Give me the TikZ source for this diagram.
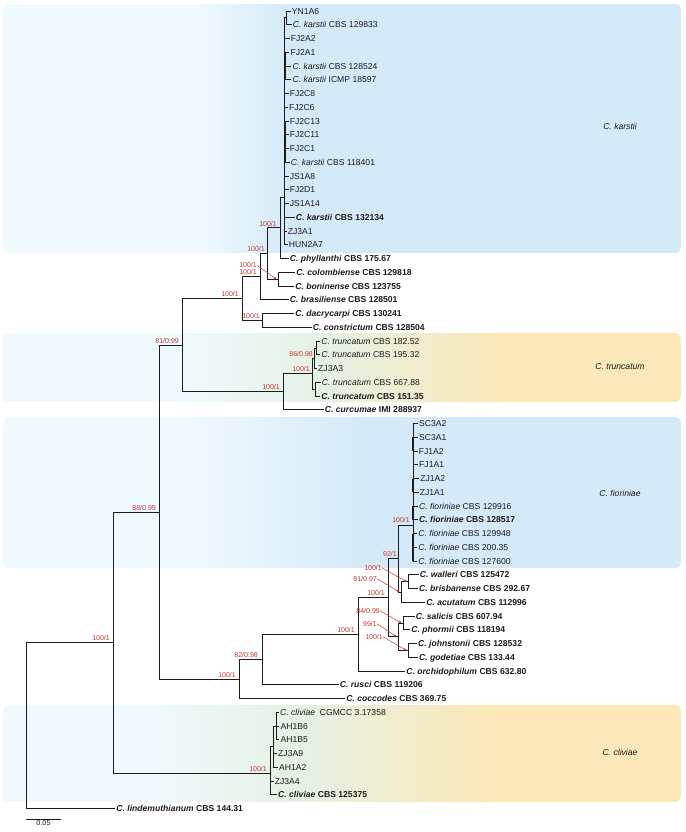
\documentclass[tikz,border=0pt]{standalone}
\usepackage{fontspec}
\setmainfont{Liberation Sans}
\usetikzlibrary{arrows.meta,calc}
\definecolor{bsred}{RGB}{200,52,46}
\definecolor{boxblue}{RGB}{213,234,248}
\definecolor{boxpale}{RGB}{239,250,254}
\definecolor{boxgreen}{RGB}{229,241,227}
\definecolor{boxorange}{RGB}{252,232,184}
\definecolor{ink}{RGB}{28,28,28}
\newcommand\spn[2]{\textit{#1} #2}
\newcommand\spbold[2]{\textbf{\textit{#1} #2}}
\tikzset{
  br/.style={draw=ink, line width=0.8pt},
  brk/.style={draw=ink, line width=1.7pt},
  tiplab/.style={anchor=west, inner xsep=1.2pt, inner ysep=0pt, text height=6.2pt, text depth=0pt, font=\fontsize{8.6}{10}\selectfont, text=ink},
  bs/.style={anchor=south east, inner sep=0pt, text height=5pt, text depth=0pt, font=\fontsize{7}{8}\selectfont, text=bsred},
  bsarrow/.style={draw=bsred, line width=0.5pt, -{Stealth[length=3pt,width=2.6pt]}},
  clab/.style={font=\fontsize{8.6}{10}\selectfont\itshape, text=ink},
}
\begin{document}
\begin{tikzpicture}[x=1pt,y=-1pt]
\useasboundingbox (0,0) rectangle (685,832);
% ---------- background boxes ----------
\begin{scope}
\clip[rounded corners=5pt] (3,4) rectangle (681,253);
\fill[boxpale] (3,4) rectangle (200,253);
\shade[left color=boxpale, right color=boxblue] (199.5,4) rectangle (285.5,253);
\fill[boxblue] (285,4) rectangle (681,253);
\end{scope}
\begin{scope}
\clip[rounded corners=5pt] (3,333) rectangle (681,402);
\fill[boxpale] (3,333) rectangle (180,402);
\shade[left color=boxpale, right color=boxgreen] (179.5,333) rectangle (330.5,402);
\shade[left color=boxgreen, right color=boxorange] (330,333) rectangle (500.5,402);
\fill[boxorange] (500,333) rectangle (681,402);
\end{scope}
\begin{scope}
\clip[rounded corners=5pt] (3,417) rectangle (681,568);
\fill[boxpale] (3,417) rectangle (190,568);
\shade[left color=boxpale, right color=boxblue] (189.5,417) rectangle (360.5,568);
\fill[boxblue] (360,417) rectangle (681,568);
\end{scope}
\begin{scope}
\clip[rounded corners=5pt] (3,705) rectangle (681,802);
\fill[boxpale] (3,705) rectangle (150,802);
\shade[left color=boxpale, right color=boxgreen] (149.5,705) rectangle (300.5,802);
\shade[left color=boxgreen, right color=boxorange] (300,705) rectangle (490.5,802);
\fill[boxorange] (490,705) rectangle (681,802);
\end{scope}
\node[clab] (lkar) at (620,126) {C. karstii};
\node[clab] (ltru) at (620,367) {C. truncatum};
\node[clab] (lfio) at (620,493) {C. fioriniae};
\node[clab] (lcli) at (620,752) {C. cliviae};
% ---------- internal nodes ----------
\coordinate (ka) at (286.5,17.9);
\coordinate (kb) at (285,66);
\coordinate (kd) at (284.8,141.6);
\coordinate (kc) at (284,197);
\coordinate (kp) at (280,227.75);
\coordinate (cb) at (278,279.1);
\coordinate (Nb) at (267,253.4);
\coordinate (Na) at (260,276.6);
\coordinate (dc) at (262,320.4);
\coordinate (Nc) at (242,298.5);
\coordinate (tA) at (316.5,347.9);
\coordinate (tB) at (314,358.2);
\coordinate (tC) at (315.5,389.1);
\coordinate (tcr) at (312,373.65);
\coordinate (T) at (283,391.7);
\coordinate (Nd) at (182,345.1);
\coordinate (fc) at (413,525);
\coordinate (wb) at (408,581.6);
\coordinate (Q) at (401,591.9);
\coordinate (P) at (398,558.45);
\coordinate (sp) at (403,622.9);
\coordinate (jg) at (408,650.4);
\coordinate (Bn) at (398,636.6);
\coordinate (X388) at (388,597.5);
\coordinate (X358) at (358,634.25);
\coordinate (X262) at (262,659.5);
\coordinate (X239) at (239,679);
\coordinate (Ne) at (159,512);
\coordinate (cA) at (276.5,726);
\coordinate (cB) at (273,746.4);
\coordinate (ccr) at (270,773);
\coordinate (I) at (113,642.5);
\coordinate (R) at (26,725.5);
% ---------- tips ----------
\node[tiplab] (t0) at (290.5,11) {YN1A6};
\node[tiplab] (t1) at (291.5,24.75) {\spn{C. karstii}{CBS 129833}};
\node[tiplab] (t2) at (289.5,38.5) {FJ2A2};
\node[tiplab] (t3) at (289.2,52.25) {FJ2A1};
\node[tiplab] (t4) at (291.2,66) {\spn{C. karstii}{CBS 128524}};
\node[tiplab] (t5) at (291.2,79.75) {\spn{C. karstii}{ICMP 18597}};
\node[tiplab] (t6) at (288.5,93.5) {FJ2C8};
\node[tiplab] (t7) at (287.8,107.25) {FJ2C6};
\node[tiplab] (t8) at (288.5,121) {FJ2C13};
\node[tiplab] (t9) at (288.5,134.75) {FJ2C11};
\node[tiplab] (t10) at (288.5,148.5) {FJ2C1};
\node[tiplab] (t11) at (289.5,162.25) {\spn{C. karstii}{CBS 118401}};
\node[tiplab] (t12) at (288.5,176) {JS1A8};
\node[tiplab] (t13) at (288.5,189.75) {FJ2D1};
\node[tiplab] (t14) at (288.5,203.5) {JS1A14};
\node[tiplab] (t15) at (294.5,217.25) {\spbold{C. karstii}{CBS 132134}};
\node[tiplab] (t16) at (286.5,231) {ZJ3A1};
\node[tiplab] (t17) at (287.5,244.75) {HUN2A7};
\node[tiplab] (t18) at (288.5,258.5) {\spbold{C. phyllanthi}{CBS 175.67}};
\node[tiplab] (t19) at (295,272.25) {\spbold{C. colombiense}{CBS 129818}};
\node[tiplab] (t20) at (294,286) {\spbold{C. boninense}{CBS 123755}};
\node[tiplab] (t21) at (288.5,299.75) {\spbold{C. brasiliense}{CBS 128501}};
\node[tiplab] (t22) at (294,313.5) {\spbold{C. dacrycarpi}{CBS 130241}};
\node[tiplab] (t23) at (311.5,327.25) {\spbold{C. constrictum}{CBS 128504}};
\node[tiplab] (t24) at (320,341) {\spn{C. truncatum}{CBS 182.52}};
\node[tiplab] (t25) at (320,354.75) {\spn{C. truncatum}{CBS 195.32}};
\node[tiplab] (t26) at (316.8,368.5) {ZJ3A3};
\node[tiplab] (t27) at (320.5,382.25) {\spn{C. truncatum}{CBS 667.88}};
\node[tiplab] (t28) at (320,396) {\spbold{C. truncatum}{CBS 151.35}};
\node[tiplab] (t29) at (323.5,409.75) {\spbold{C. curcumae}{IMI 288937}};
\node[tiplab] (t30) at (417.8,423.5) {SC3A2};
\node[tiplab] (t31) at (417.8,437.25) {SC3A1};
\node[tiplab] (t32) at (417.5,451) {FJ1A2};
\node[tiplab] (t33) at (417.8,464.75) {FJ1A1};
\node[tiplab] (t34) at (419,478.5) {ZJ1A2};
\node[tiplab] (t35) at (418.5,492.25) {ZJ1A1};
\node[tiplab] (t36) at (417.8,506) {\spn{C. fioriniae}{CBS 129916}};
\node[tiplab] (t37) at (417.8,519.75) {\spbold{C. fioriniae}{CBS 128517}};
\node[tiplab] (t38) at (417,533.5) {\spn{C. fioriniae}{CBS 129948}};
\node[tiplab] (t39) at (417,547.25) {\spn{C. fioriniae}{CBS 200.35}};
\node[tiplab] (t40) at (417,561) {\spn{C. fioriniae}{CBS 127600}};
\node[tiplab] (t41) at (418.5,574.75) {\spbold{C. walleri}{CBS 125472}};
\node[tiplab] (t42) at (417.8,588.5) {\spbold{C. brisbanense}{CBS 292.67}};
\node[tiplab] (t43) at (425,602.25) {\spbold{C. acutatum}{CBS 112996}};
\node[tiplab] (t44) at (414.5,616) {\spbold{C. salicis}{CBS 607.94}};
\node[tiplab] (t45) at (410,629.75) {\spbold{C. phormii}{CBS 118194}};
\node[tiplab] (t46) at (416.8,643.5) {\spbold{C. johnstonii}{CBS 128532}};
\node[tiplab] (t47) at (417.8,657.25) {\spbold{C. godetiae}{CBS 133.44}};
\node[tiplab] (t48) at (405,671) {\spbold{C. orchidophilum}{CBS 632.80}};
\node[tiplab] (t49) at (338.5,684.75) {\spbold{C. rusci}{CBS 119206}};
\node[tiplab] (t50) at (345,698.5) {\spbold{C. coccodes}{CBS 369.75}};
\node[tiplab] (t51) at (278.8,712.25) {\textit{C. cliviae}\ \ CGMCC 3.17358};
\node[tiplab] (t52) at (279.2,726) {AH1B6};
\node[tiplab] (t53) at (279.2,739.75) {AH1B5};
\node[tiplab] (t54) at (276.8,753.5) {ZJ3A9};
\node[tiplab] (t55) at (277.8,767.25) {AH1A2};
\node[tiplab] (t56) at (273.5,781) {ZJ3A4};
\node[tiplab] (t57) at (276.8,794.75) {\spbold{C. cliviae}{CBS 125375}};
\node[tiplab] (t58) at (115,808.5) {\spbold{C. lindemuthianum}{CBS 144.31}};
% ---------- branches ----------
\foreach \c in {t0,t1} \draw[br] (ka) |- (\c.west);
\foreach \c in {t3,t4,t5} \draw[br] (kb) |- (\c.west);
\foreach \c in {t8,t9,t10,t11} \draw[br] (kd) |- (\c.west);
\foreach \c in {t2,t6,t7,t12,t13,t14,t15,t16,t17} \draw[br] (kc) |- (\c.west);
\draw[br] (kc) |- (ka);
\draw[br] (kc) |- (kb);
\draw[br] (kc) |- (kd);
\draw[brk] (t1.west -| ka) -- (ka);
\draw[brk] (t3.west -| kb) -- (t5.west -| kb);
\draw[brk] (t8.west -| kd) -- (t11.west -| kd);
\draw[br] (kp) |- (kc);
\draw[br] (kp) |- (t18.west);
\draw[br] (cb) |- (t19.west);
\draw[br] (cb) |- (t20.west);
\draw[br] (Nb) |- (kp);
\draw[br] (Nb) |- (cb);
\draw[br] (Na) |- (Nb);
\draw[br] (Na) |- (t21.west);
\draw[br] (dc) |- (t22.west);
\draw[br] (dc) |- (t23.west);
\draw[br] (Nc) |- (Na);
\draw[br] (Nc) |- (dc);
\draw[br] (tA) |- (t24.west);
\draw[br] (tA) |- (t25.west);
\draw[br] (tB) |- (tA);
\draw[br] (tB) |- (t26.west);
\draw[br] (tC) |- (t27.west);
\draw[br] (tC) |- (t28.west);
\draw[br] (tcr) |- (tB);
\draw[br] (tcr) |- (tC);
\draw[br] (T) |- (tcr);
\draw[br] (T) |- (t29.west);
\draw[br] (Nd) |- (Nc);
\draw[br] (Nd) |- (T);
\foreach \c in {t30,t31,t32,t33,t34,t35,t36,t37,t38,t39,t40} \draw[br] (fc) |- (\c.west);
\draw[brk] (t31.west -| fc) -- (t32.west -| fc);
\draw[brk] (t34.west -| fc) -- (t35.west -| fc);
\draw[brk] (t36.west -| fc) -- (t37.west -| fc);
\draw[brk] (t38.west -| fc) -- (t40.west -| fc);
\draw[br] (wb) |- (t41.west);
\draw[br] (wb) |- (t42.west);
\draw[br] (Q) |- (wb);
\draw[br] (Q) |- (t43.west);
\draw[br] (P) |- (fc);
\draw[br] (P) |- (Q);
\draw[br] (sp) |- (t44.west);
\draw[br] (sp) |- (t45.west);
\draw[br] (jg) |- (t46.west);
\draw[br] (jg) |- (t47.west);
\draw[br] (Bn) |- (sp);
\draw[br] (Bn) |- (jg);
\draw[br] (X388) |- (P);
\draw[br] (X388) |- (Bn);
\draw[br] (X358) |- (X388);
\draw[br] (X358) |- (t48.west);
\draw[br] (X262) |- (X358);
\draw[br] (X262) |- (t49.west);
\draw[br] (X239) |- (X262);
\draw[br] (X239) |- (t50.west);
\draw[br] (Ne) |- (Nd);
\draw[br] (Ne) |- (X239);
\foreach \c in {t51,t52,t53} \draw[br] (cA) |- (\c.west);
\draw[brk] (t51.west -| cA) -- (cA);
\draw[br] (cB) |- (cA);
\draw[br] (cB) |- (t54.west);
\draw[br] (cB) |- (t55.west);
\draw[br] (ccr) |- (cB);
\draw[br] (ccr) |- (t56.west);
\draw[br] (ccr) |- (t57.west);
\draw[br] (I) |- (Ne);
\draw[br] (I) |- (ccr);
\draw[br] (R) |- (I);
\draw[br] (R) |- (t58.west);
% ---------- support values ----------
\node[bs] (s1) at (277,226.25) {100/1};
\node[bs] (s2) at (265,252) {100/1};
\node[bs] (s3) at (257,268) {100/1};
\node[bs] (s4) at (257,275) {100/1};
\node[bs] (s5) at (239,297) {100/1};
\node[bs] (s6) at (260,319) {100/1};
\node[bs] (s7) at (179,343.5) {81/0.99};
\node[bs] (s8) at (313,356.5) {86/0.98};
\node[bs] (s9) at (310,372) {100/1};
\node[bs] (s10) at (280,390) {100/1};
\node[bs] (s11) at (410,523) {100/1};
\node[bs] (s12) at (397,557) {92/1};
\node[bs] (s13) at (382,570.5) {100/1};
\node[bs] (s14) at (377,581.5) {81/0.97};
\node[bs] (s15) at (385,596) {100/1};
\node[bs] (s16) at (380,613.5) {84/0.99};
\node[bs] (s17) at (377,626.5) {99/1};
\node[bs] (s18) at (383,639.5) {100/1};
\node[bs] (s19) at (355,632.5) {100/1};
\node[bs] (s20) at (258,658) {82/0.98};
\node[bs] (s21) at (236,677.5) {100/1};
\node[bs] (s22) at (156,510.5) {88/0.99};
\node[bs] (s23) at (110,641) {100/1};
\node[bs] (s24) at (267,771.5) {100/1};
\draw[bsarrow] (s3.east) -- ([xshift=-1.5pt]cb);
\draw[bsarrow] (s13.east) -- ([xshift=-1.5pt]wb);
\draw[bsarrow] (s14.east) -- ([xshift=-1.5pt]Q);
\draw[bsarrow] (s16.east) -- ([xshift=-1.5pt]sp);
\draw[bsarrow] (s17.east) -- ([xshift=-1.5pt]Bn);
\draw[bsarrow] (s18.east) -- ([xshift=-1.5pt]jg);
% ---------- scale bar ----------
\coordinate (sb1) at (26,819);
\coordinate (sb2) at (61,819);
\draw[br] (sb1) -- (sb2);
\node[font=\fontsize{7.2}{8}\selectfont, text=ink, anchor=north, inner sep=1pt] (sbl) at ($(sb1)!0.5!(sb2)$) {0.05};
\end{tikzpicture}
\end{document}
